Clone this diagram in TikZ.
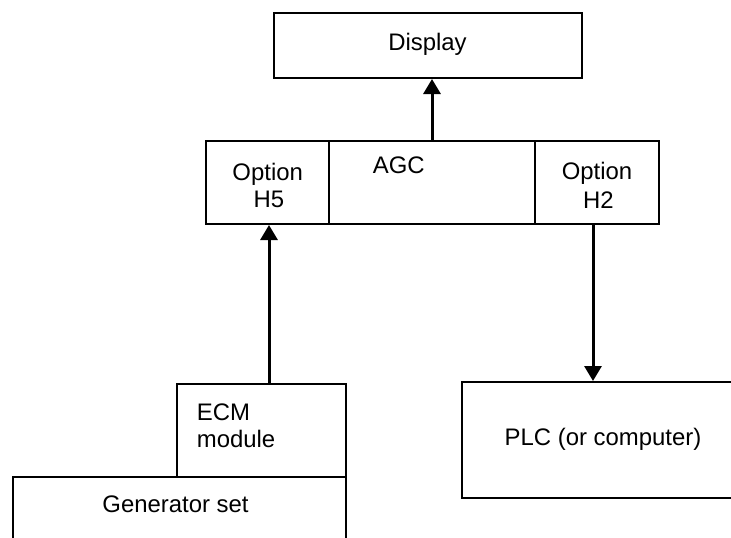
\documentclass[tikz,border=0pt]{standalone}
\usepackage{fontspec}
\setmainfont{Liberation Sans}
\usetikzlibrary{arrows.meta}
\begin{document}
\begin{tikzpicture}[x=1pt,y=-1pt,
  box/.style={draw, line width=2pt, rectangle, inner sep=0pt, anchor=north west},
  txt/.style={inner sep=0pt, font=\fontsize{23.9}{27.3}\selectfont},
  arr/.style={line width=3pt, -{Triangle[length=15pt,width=17pt]}}]
\useasboundingbox (0,0) rectangle (731,538);
\clip (0,0) rectangle (731,538);
% boxes
\node[box, minimum width=308pt, minimum height=65pt] (display) at (273,12) {};
\node[box, minimum width=123pt, minimum height=83pt] (h5) at (205,140) {};
\node[box, minimum width=206pt, minimum height=83pt] (agc) at (328,140) {};
\node[box, minimum width=124pt, minimum height=83pt] (h2) at (534,140) {};
\node[box, minimum width=169pt, minimum height=93pt] (ecm) at (176,383) {};
\node[box, minimum width=333pt, minimum height=100pt] (gen) at (12,476) {};
\node[box, minimum width=320pt, minimum height=116pt] (plc) at (461,381) {};
% texts
\node[txt, anchor=base] (tdisplay) at (427.5,50) {Display};
\node[txt, anchor=base] (th5a) at (267.7,180) {Option};
\node[txt, anchor=base] (th5b) at (269,207) {H5};
\node[txt, anchor=base west] (tagc) at (372.7,173) {AGC};
\node[txt, anchor=base] (th2a) at (597,179) {Option};
\node[txt, anchor=base] (th2b) at (598.5,208) {H2};
\node[txt, anchor=base west] (tecma) at (196.7,420) {ECM};
\node[txt, anchor=base west] (tecmb) at (196.7,447) {module};
\node[txt, anchor=base] (tgen) at (175.5,512.7) {Generator set};
\node[txt, anchor=base] (tplc) at (603,445) {PLC (or computer)};
% connectors
\draw[arr] (agc.north) -- (agc.north |- display.south);
\draw[arr] ([xshift=1.5pt]h5.south |- ecm.north) -- ([xshift=1.5pt]h5.south);
\draw[arr] ([xshift=-4pt]h2.south) -- ([xshift=-4pt]h2.south |- plc.north);
\end{tikzpicture}
\end{document}
